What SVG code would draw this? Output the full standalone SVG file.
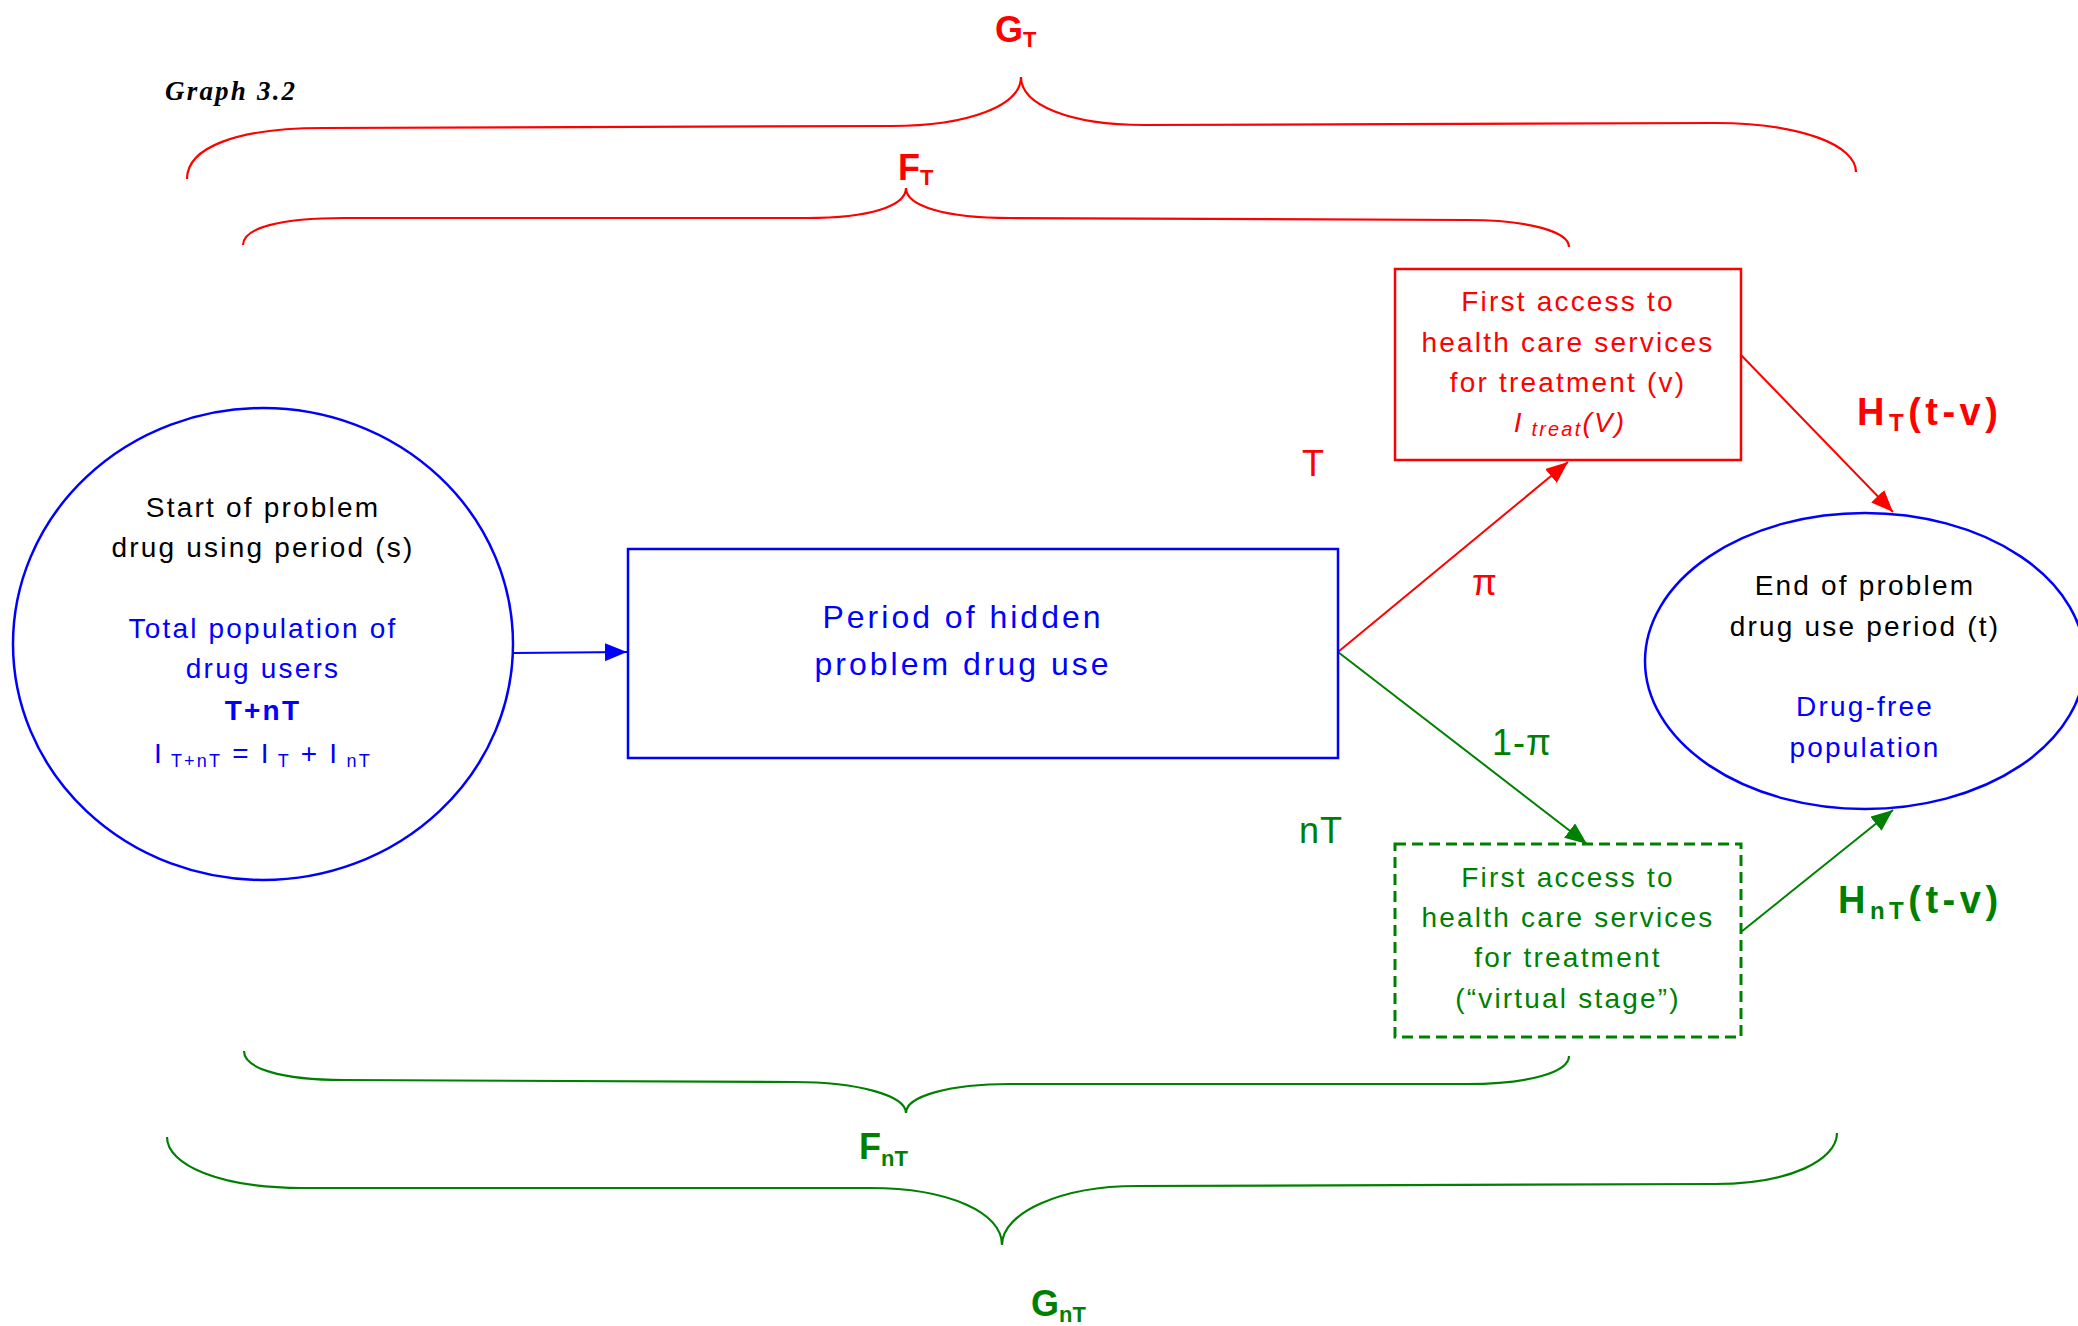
<svg xmlns="http://www.w3.org/2000/svg" width="2078" height="1326" viewBox="0 0 2078 1326">
<style>
  .t{font-family:"Liberation Sans",Arial,sans-serif;font-size:28px;letter-spacing:2.2px;text-anchor:middle}
  .big{font-family:"Liberation Sans",Arial,sans-serif;font-size:32px;letter-spacing:3px;text-anchor:middle}
  .lbl{font-family:"Liberation Sans",Arial,sans-serif;font-size:36px;letter-spacing:1px}
  .bl{font-family:"Liberation Sans",Arial,sans-serif;font-size:38px;font-weight:bold;letter-spacing:4.5px}
  .br{fill:none;stroke-width:2.2}
  .red{fill:#ff0000}.blue{fill:#0000ff}.green{fill:#008000}.black{fill:#000000}
  .conn{fill:none;stroke-width:2}
</style>
<defs>
  <marker id="ab" markerUnits="userSpaceOnUse" markerWidth="22" markerHeight="18" refX="22" refY="9" orient="auto"><path d="M0,0 L22,9 L0,18 z" fill="#0000ff"/></marker>
  <marker id="ar" markerUnits="userSpaceOnUse" markerWidth="22" markerHeight="18" refX="22" refY="9" orient="auto"><path d="M0,0 L22,9 L0,18 z" fill="#ff0000"/></marker>
  <marker id="ag" markerUnits="userSpaceOnUse" markerWidth="22" markerHeight="18" refX="22" refY="9" orient="auto"><path d="M0,0 L22,9 L0,18 z" fill="#008000"/></marker>
</defs>
<rect width="2078" height="1326" fill="#ffffff"/>

<text x="165" y="100" font-family="Liberation Serif,Times New Roman,serif" font-size="27" font-weight="bold" font-style="italic" letter-spacing="2.2">Graph 3.2</text>

<g id="braces">
  <path class="br" stroke="#ff0000" d="M187,179 C187,148 235,128 323,128 L891,126 C970,126 1021,105 1021,77 C1021,105 1070,125 1144,125 L1715,123 C1800,123 1856,145 1856,172"/>
  <path class="br" stroke="#ff0000" d="M243,245 C243,228 280,218 344,218 L807,218 C870,218 906,206 906,188 C906,206 945,218 1010,218 L1467,220 C1530,220 1569,232 1569,247"/>
  <path class="br" stroke="#008000" d="M244,1051 C244,1068 280,1080 344,1080 L793,1082 C860,1082 906,1096 906,1113 C906,1096 950,1084 1010,1084 L1467,1084 C1530,1084 1569,1072 1569,1056"/>
  <path class="br" stroke="#008000" d="M167,1137 C167,1165 220,1188 302,1188 L870,1188 C950,1188 1002,1213 1002,1245 C1002,1213 1060,1186 1137,1186 L1715,1184 C1790,1184 1837,1160 1837,1133"/>
</g>

<g id="brace-labels">
  <text class="red" font-family="Liberation Sans,Arial,sans-serif" font-weight="bold" font-size="36" x="995" y="42">G<tspan font-size="22" dy="5">T</tspan></text>
  <text class="red" font-family="Liberation Sans,Arial,sans-serif" font-weight="bold" font-size="36" x="898" y="180">F<tspan font-size="22" dy="5">T</tspan></text>
  <text class="green" font-family="Liberation Sans,Arial,sans-serif" font-weight="bold" font-size="36" x="859" y="1159">F<tspan font-size="22" dy="7">nT</tspan></text>
  <text class="green" font-family="Liberation Sans,Arial,sans-serif" font-weight="bold" font-size="36" x="1031" y="1316">G<tspan font-size="22" dy="6">nT</tspan></text>
</g>

<g id="connectors">
  <line class="conn" stroke="#0000ff" x1="513" y1="653" x2="627" y2="652" marker-end="url(#ab)"/>
  <line class="conn" stroke="#ff0000" x1="1338" y1="652" x2="1568" y2="462" marker-end="url(#ar)"/>
  <line class="conn" stroke="#ff0000" x1="1741" y1="355" x2="1893" y2="512" marker-end="url(#ar)"/>
  <line class="conn" stroke="#008000" x1="1338" y1="652" x2="1587" y2="844" marker-end="url(#ag)"/>
  <line class="conn" stroke="#008000" x1="1741" y1="932" x2="1893" y2="810" marker-end="url(#ag)"/>
</g>

<g id="connector-labels">
  <text class="lbl red" x="1302" y="476">T</text>
  <text class="lbl red" x="1472" y="595">π</text>
  <text class="lbl green" x="1492" y="755">1-π</text>
  <text class="lbl green" x="1299" y="843" letter-spacing="3">nT</text>
  <text class="bl red" x="1857" y="425">H<tspan font-size="24" dy="6">T</tspan><tspan dy="-6">(t-v)</tspan></text>
  <text class="bl green" x="1838" y="913">H<tspan font-size="24" dy="6">nT</tspan><tspan dy="-6">(t-v)</tspan></text>
</g>

<g id="start-node">
  <ellipse cx="263" cy="644" rx="250" ry="236" fill="none" stroke="#0000ff" stroke-width="2.5"/>
  <text class="t black" x="263" y="517" letter-spacing="3.3">Start of problem</text>
  <text class="t black" x="263" y="557">drug using period (s)</text>
  <text class="t blue" x="263" y="638" letter-spacing="2.6">Total population of</text>
  <text class="t blue" x="263" y="678" letter-spacing="2.6">drug users</text>
  <text class="t blue" x="263" y="720" font-weight="bold">T+nT</text>
  <text class="t blue" x="263" y="763">I<tspan font-size="18" dy="4"> T+nT</tspan><tspan dy="-4"> = I</tspan><tspan font-size="18" dy="4"> T</tspan><tspan dy="-4"> + I</tspan><tspan font-size="18" dy="4"> nT</tspan></text>
</g>

<g id="hidden-node">
  <rect x="628" y="549" width="710" height="209" fill="none" stroke="#0000ff" stroke-width="2.5"/>
  <text class="big blue" x="963" y="628">Period of hidden</text>
  <text class="big blue" x="963" y="675">problem drug use</text>
</g>

<g id="treat-node">
  <rect x="1395" y="269" width="346" height="191" fill="none" stroke="#ff0000" stroke-width="2.5"/>
  <text class="t red" x="1568" y="311">First access to</text>
  <text class="t red" x="1568" y="352">health care services</text>
  <text class="t red" x="1568" y="392">for treatment (v)</text>
  <text class="t red" x="1570" y="432" font-style="italic">I<tspan font-size="20" dy="4"> treat</tspan><tspan dy="-4">(V)</tspan></text>
</g>

<g id="virtual-node">
  <rect x="1395" y="844" width="346" height="193" fill="none" stroke="#008000" stroke-width="3" stroke-dasharray="11,6"/>
  <text class="t green" x="1568" y="887">First access to</text>
  <text class="t green" x="1568" y="927">health care services</text>
  <text class="t green" x="1568" y="967">for treatment</text>
  <text class="t green" x="1568" y="1008">(“virtual stage”)</text>
</g>

<g id="end-node">
  <ellipse cx="1865" cy="661" rx="220" ry="148" fill="none" stroke="#0000ff" stroke-width="2.5"/>
  <text class="t black" x="1865" y="595">End of problem</text>
  <text class="t black" x="1865" y="636">drug use period (t)</text>
  <text class="t blue" x="1865" y="716" letter-spacing="3">Drug-free</text>
  <text class="t blue" x="1865" y="757" letter-spacing="3">population</text>
</g>
</svg>
